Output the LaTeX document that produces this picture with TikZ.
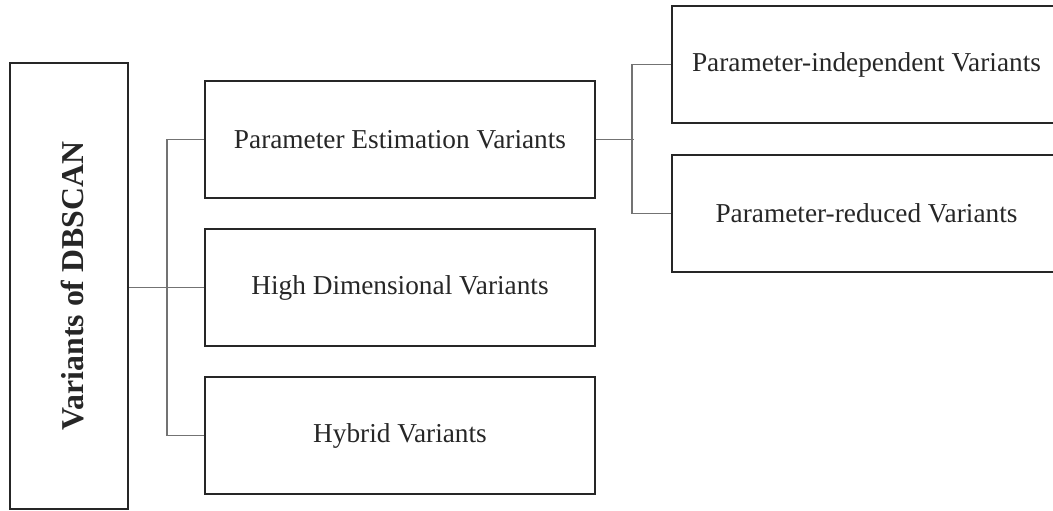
\documentclass[tikz,border=0pt]{standalone}
\usepackage{fontspec}
\setmainfont{Liberation Serif}
\begin{document}
\begin{tikzpicture}[x=1pt,y=-1pt,
  box/.style={draw=black!85,line width=2pt,rectangle,inner sep=0pt,
    minimum width=390pt,minimum height=117pt,font=\fontsize{27.3}{32}\selectfont,text=black!85},
  rootbox/.style={draw=black!85,line width=2pt,rectangle,inner sep=0pt,
    minimum width=118pt,minimum height=446pt},
  link/.style={draw=black!55,line width=1.6pt}]
\useasboundingbox (0,0) rectangle (1053,511);
\clip (0,0) rectangle (1053,511);
\node[rootbox] (root) at (69,286) {};
\node[rotate=90,font=\bfseries\fontsize{31.8}{36}\selectfont,text=black!85] (roottext) at (73,286) {Variants of DBSCAN};
\node[box] (pe) at (400,139.5) {Parameter Estimation Variants};
\node[box] (hd) at (400,287.5) {High Dimensional Variants};
\node[box] (hy) at (400,435.5) {Hybrid Variants};
\node[box,minimum width=389pt] (pi) at (866.5,64.5) {Parameter-independent Variants};
\node[box,minimum width=389pt] (pr) at (866.5,213.5) {Parameter-reduced Variants};
\draw[link] (root.east |- hd.west) -- (hd.west);
\draw[link] (pe.west) -- ++(-37,0) coordinate (b1) |- (hy.west);
\draw[link] (pe.east) -- ++(38,0) coordinate (b2);
\draw[link] (pi.west) -- ++(-39,0) |- (pr.west);
\end{tikzpicture}
\end{document}
